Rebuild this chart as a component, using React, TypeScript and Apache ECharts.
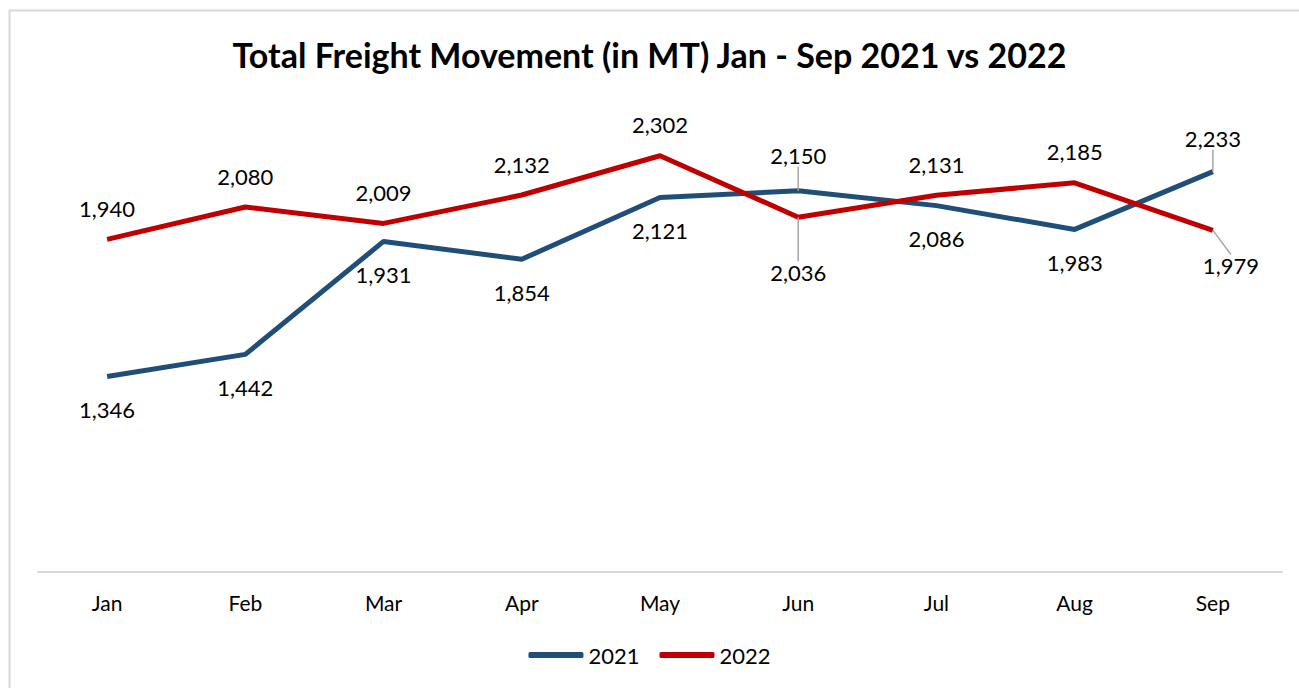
import React, { useEffect, useRef } from "react";
import * as echarts from "echarts";

const categories = ["Jan", "Feb", "Mar", "Apr", "May", "Jun", "Jul", "Aug", "Sep"];
const values2021 = [1346, 1442, 1931, 1854, 2121, 2150, 2086, 1983, 2233];
const values2022 = [1940, 2080, 2009, 2132, 2302, 2036, 2131, 2185, 1979];
const seriesNames = ["2021", "2022"];

const FONT = "Lato, 'Open Sans', sans-serif";

export default function App() {
  const ref = useRef<HTMLDivElement>(null);
  useEffect(() => {
    if (!ref.current) return;
    const chart = echarts.init(ref.current, null, { renderer: "svg" });
    const fmt = (p: any) => Number(p.value).toLocaleString("en-US");
    const labelBase = { show: true, fontSize: 22, color: "#000", fontFamily: FONT, formatter: fmt };
    const moves: Record<string, [number, number]> = {
      "0-5": [0, -4],
      "0-8": [0, -2],
      "1-5": [0, 24],
      "1-8": [18, 4],
    };
    const lead = (s: number, i: number) => !!moves[`${s}-${i}`];
    chart.setOption({
      animation: false,
      title: {
        text: "Total Freight Movement (in MT) Jan - Sep 2021 vs 2022",
        left: "center",
        top: 32,
        textStyle: { fontSize: 34, fontWeight: "bold", color: "#000", fontFamily: FONT },
      },
      graphic: [
        {
          type: "rect",
          shape: { x: 9.5, y: 10.5, width: 1320, height: 720 },
          style: { fill: "none", stroke: "#d9d9d9", lineWidth: 2 },
          silent: true,
        },
      ],
      legend: {
        bottom: 17,
        left: "center",
        icon: "roundRect",
        itemWidth: 55,
        itemHeight: 6,
        itemGap: 20,
        textStyle: { fontSize: 22, color: "#000", fontFamily: FONT },
        data: seriesNames,
      },
      grid: { left: 38, right: 17, top: 110, bottom: 116 },
      xAxis: {
        type: "category",
        data: categories,
        boundaryGap: true,
        axisLine: { lineStyle: { color: "#d9d9d9", width: 2 } },
        axisTick: { show: false },
        axisLabel: { fontSize: 21, color: "#000", fontFamily: FONT, margin: 20 },
      },
      yAxis: {
        type: "value",
        min: 500,
        max: 2500,
        show: false,
        splitLine: { show: false },
      },
      labelLayout: (params: any) => {
        const m = moves[`${params.seriesIndex}-${params.dataIndex}`];
        if (m) return { dx: m[0], dy: m[1] };
        return {};
      },
      series: [
        {
          name: seriesNames[0],
          type: "line",
          data: values2021.map((v, i) => ({
            value: v,
            label: { position: i === 5 || i === 8 ? "top" : "bottom", distance: i === 5 || i === 8 ? 20 : 22 },
            labelLine: { show: lead(0, i) },
          })),
          symbol: "circle",
          symbolSize: 0.01,
          showAllSymbol: true,
          lineStyle: { color: "#1f4e79", width: 5 },
          itemStyle: { color: "#1f4e79" },
          label: labelBase,
          labelLine: { show: false, lineStyle: { color: "#a6a6a6", width: 1.5 } },
        },
        {
          name: seriesNames[1],
          type: "line",
          data: values2022.map((v, i) => ({
            value: v,
            label: { position: i === 5 || i === 8 ? "bottom" : "top", distance: 20 },
            labelLine: { show: lead(1, i) },
          })),
          symbol: "circle",
          symbolSize: 0.01,
          showAllSymbol: true,
          lineStyle: { color: "#c00000", width: 5 },
          itemStyle: { color: "#c00000" },
          label: labelBase,
          labelLine: { show: false, lineStyle: { color: "#a6a6a6", width: 1.5 } },
        },
      ],
    });
    return () => chart.dispose();
  }, []);
  return (
    <div
      ref={ref}
      style={{ position: "fixed", left: 0, top: 0, width: 1299, height: 688, background: "#fff" }}
    />
  );
}
